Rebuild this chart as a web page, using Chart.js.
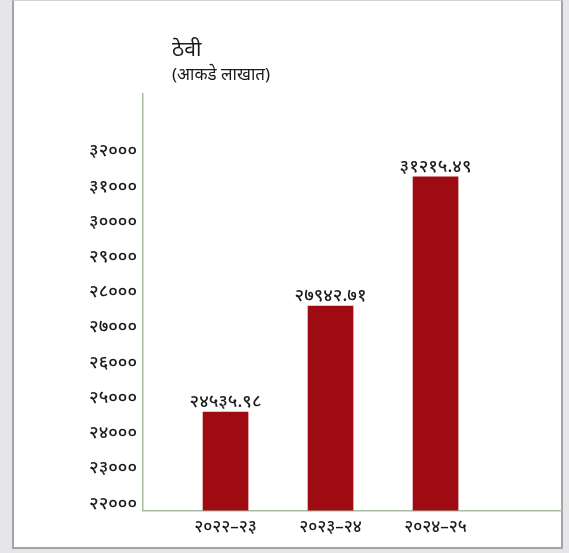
<!DOCTYPE html>
<html>
<head>
<meta charset="utf-8">
<script src="https://cdn.jsdelivr.net/npm/chart.js@4"></script>
<style>
  html, body { margin: 0; padding: 0; background: #e6e6e8; }
  body { width: 569px; height: 553px; position: relative; overflow: hidden; }
  .frame {
    position: absolute; left: 12px; top: 0; width: 547px; height: 546px;
    background: #fff; border: 2px solid #a4a4a6; border-top: 1px solid #d4d4d6;
  }
  #chart { position: absolute; left: 0; top: 0; }
</style>
</head>
<body>
<div class="frame"></div>
<canvas id="chart" width="569" height="553"></canvas>
<script>
const titleText = 'ठेवी';
const subtitleText = '(आकडे लाखात)';
const categories = ['२०२२–२३', '२०२३–२४', '२०२४–२५'];
const depositValues = [24535.98, 27550, 31215.49];
const valueLabels = ['२४५३५.९८', '२७९४२.७१', '३१२१५.४९'];
const yTickValues = [22000, 23000, 24000, 25000, 26000, 27000, 28000, 29000, 30000, 31000, 32000];

const nepaliDigits = ['०', '१', '२', '३', '४', '५', '६', '७', '८', '९'];
function toNepali(n) {
    return String(n).replace(/[0-9]/g, d => nepaliDigits[+d]);
}

const fontFamily = "'Noto Sans', 'Noto Sans Devanagari', sans-serif";
const textColor = '#1a1a1a';
const axisColor = '#a9bba5';

// title, subtitle and the value on top of each bar
const textPlugin = {
    id: 'texts',
    afterDatasetsDraw(chart) {
        const ctx = chart.ctx;
        const area = chart.chartArea;
        ctx.save();
        ctx.fillStyle = textColor;
        ctx.textAlign = 'left';
        ctx.textBaseline = 'middle';
        ctx.font = '21px ' + fontFamily;
        ctx.fillText(titleText, area.left + 29, 50);
        ctx.font = '17px ' + fontFamily;
        ctx.fillText(subtitleText, area.left + 29, 75);

        ctx.textAlign = 'center';
        ctx.font = '500 18px ' + fontFamily;
        chart.getDatasetMeta(0).data.forEach((bar, i) => {
            ctx.fillText(valueLabels[i], bar.x, bar.y - 10);
        });
        ctx.restore();
    }
};

new Chart(document.getElementById('chart').getContext('2d'), {
    type: 'bar',
    data: {
        datasets: [{
            data: depositValues.map((v, i) => ({ x: i, y: v })),
            backgroundColor: '#9f0b12',
            barThickness: 45
        }]
    },
    options: {
        responsive: false,
        animation: false,
        layout: { padding: { top: 94, right: 8, bottom: 10, left: 0 } },
        plugins: { legend: { display: false }, tooltip: { enabled: false } },
        scales: {
            x: {
                type: 'linear',
                offset: false,
                min: -0.786,
                max: 3.195,
                afterBuildTicks: scale => { scale.ticks = categories.map((c, i) => ({ value: i })); },
                grid: { display: false, drawTicks: false },
                border: { color: axisColor, width: 1.5 },
                ticks: {
                    padding: 6,
                    color: textColor,
                    font: { family: fontFamily, size: 17, weight: '500' },
                    callback: v => categories[v]
                }
            },
            y: {
                min: 21740,
                max: 33570,
                afterBuildTicks: scale => { scale.ticks = yTickValues.map(v => ({ value: v })); },
                afterFit: scale => { scale.width = 143; },
                grid: { display: false, drawTicks: false },
                border: { color: axisColor, width: 1.5 },
                ticks: {
                    padding: 6,
                    labelOffset: 2,
                    color: textColor,
                    font: { family: fontFamily, size: 18, weight: '500' },
                    callback: v => toNepali(v)
                }
            }
        }
    },
    plugins: [textPlugin]
});
</script>
</body>
</html>
